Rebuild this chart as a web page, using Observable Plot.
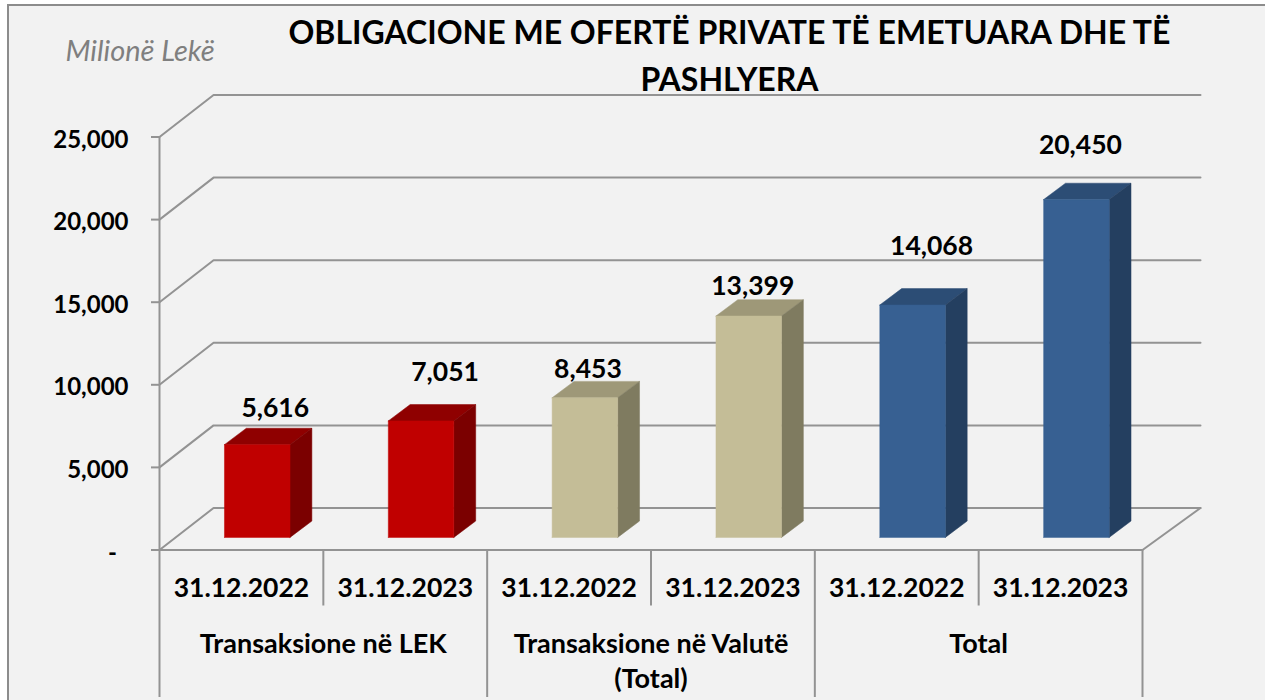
<!DOCTYPE html>
<html>
<head>
<meta charset="utf-8">
<script src="https://cdn.jsdelivr.net/npm/d3@7"></script>
<script src="https://cdn.jsdelivr.net/npm/@observablehq/plot@0.6"></script>
<style>
  html, body { margin: 0; padding: 0; background: #fff; overflow: hidden; }
  #frame { position: absolute; left: 7px; top: 4px; right: 0; bottom: 0; background: #f2f2f2;
           border-left: 2px solid #8c8c8c; border-top: 2px solid #8c8c8c; }
  #chart { position: absolute; left: 0; top: 0; width: 1265px; height: 700px; }
  #chart svg { display: block; }
</style>
</head>
<body>
<div id="frame"></div>
<div id="chart"></div>
<script>
const dates = ["31.12.2022", "31.12.2023", "31.12.2022", "31.12.2023", "31.12.2022", "31.12.2023"];
const groups = ["Transaksione në LEK", "Transaksione në Valutë\n(Total)", "Total"];
const values = [5616, 7051, 8453, 13399, 14068, 20450];
const yTicks = [0, 5000, 10000, 15000, 20000, 25000];
const title = "OBLIGACIONE ME OFERTË PRIVATE TË EMETUARA DHE TË\nPASHLYERA";
const unitLabel = "Milionë Lekë";

// colours per group: front, top, side
const palette = [
  ["#c00000", "#8f0000", "#7b0000"],
  ["#c4bd97", "#9e9878", "#7f7b60"],
  ["#376092", "#2c4d75", "#243f60"]
];
const labelNudge = [[18, -36], [24, -48], [3, -28], [4, -30], [19, -58], [4, -54]];

// oblique projection of the 3D chart box, in scale units
const depthX = 0.342, depthY = 2542;
const P = (c, v, z) => ({x: c + z * depthX, y: v + z * depthY});
const z0 = 0.3, z1 = 0.69, gap = 0.294, barW = 0.4;
const n = dates.length, yMax = 25000;
const lineColor = "#939393";
const font = "Lato, Carlito, sans-serif";
const backLeft = 0.33, backRight = n + 0.354;

const wall = yTicks.map(v => [P(0, v, 0), {x: backLeft, y: v + depthY}, {x: backRight, y: v + depthY}]);
const floorEdge = [P(0, 0, 0), P(n, 0, 0), {x: backRight, y: depthY}];

const faceMarks = values.flatMap((v, i) => {
  const [front, top, side] = palette[Math.floor(i / 2)];
  const a = i + gap, b = a + barW;
  const poly = (pts, fill) => Plot.line([...pts, pts[0]], {x: "x", y: "y", fill, stroke: fill, strokeWidth: 0.5, curve: "linear"});
  return [
    poly([P(a, v, z0), P(b, v, z0), P(b, v, z1), P(a, v, z1)], top),
    poly([P(b, 0, z0), P(b, 0, z1), P(b, v, z1), P(b, v, z0)], side),
    poly([P(a, 0, z0), P(b, 0, z0), P(b, v, z0), P(a, v, z0)], front)
  ];
});

const labelMarks = values.map((v, i) => {
  const p = P(i + gap + barW / 2, v, z0);
  return Plot.text([d3.format(",")(v)], {
    x: () => p.x, y: () => p.y, text: d => d,
    dx: labelNudge[i][0], dy: labelNudge[i][1],
    fontSize: 26.5, fontWeight: 700, fill: "#000", fontFamily: font
  });
});

const lowShort = -3390, lowLong = -8930;

const plot = Plot.plot({
  width: 1265, height: 700,
  marginLeft: 159, marginRight: 123, marginTop: 136.5, marginBottom: 150.5,
  style: {background: "transparent", fontFamily: font, overflow: "visible"},
  x: {domain: [0, n], axis: null},
  y: {domain: [0, yMax], axis: null},
  marks: [
    ...wall.map(pts => Plot.line(pts, {x: "x", y: "y", stroke: lineColor, strokeWidth: 2, curve: "linear"})),
    Plot.line(floorEdge, {x: "x", y: "y", stroke: lineColor, strokeWidth: 2, curve: "linear"}),
    ...faceMarks,
    Plot.axisY({ticks: yTicks, tickSize: 8, fill: "none", stroke: lineColor, strokeWidth: 2, label: null, tickFormat: () => ""}),
    Plot.axisY({ticks: yTicks, tickSize: 0, tickPadding: 31, stroke: "none", fill: "#000", dy: 3,
      fontSize: 24, fontWeight: 700, fontFamily: font, label: null,
      tickFormat: d => d === 0 ? "-\u00a0\u00a0" : d3.format(",")(d)}),
    Plot.ruleX([0], {y1: lowLong, y2: yMax, stroke: lineColor, strokeWidth: 2}),
    Plot.ruleX([2, 4, 6], {y1: lowLong, y2: 0, stroke: lineColor, strokeWidth: 2}),
    Plot.ruleX([1, 3, 5], {y1: lowShort, y2: 0, stroke: lineColor, strokeWidth: 2}),
    Plot.text(dates, {x: (d, i) => i + 0.5, y: () => 0, text: d => d, dy: 39,
      fontSize: 26.5, fontWeight: 700, fill: "#000", fontFamily: font}),
    Plot.text(groups, {x: (d, i) => i * 2 + 1, y: () => 0, text: d => d, dy: 77, lineAnchor: "top", lineHeight: 1.33,
      fontSize: 27, fontWeight: 700, fill: "#000", fontFamily: font}),
    ...labelMarks,
    Plot.text([title], {frameAnchor: "top-left", dx: 570, dy: -126.5, text: d => d, textAnchor: "middle",
      lineAnchor: "top", lineHeight: 1.47, fontSize: 32, fontWeight: 700, fill: "#000", fontFamily: font}),
    Plot.text([unitLabel], {frameAnchor: "top-left", dx: -94, dy: -96.5, text: d => d, textAnchor: "start",
      lineAnchor: "top", fontSize: 29, fontStyle: "italic", fill: "#7f7f7f", fontFamily: font})
  ]
});
document.getElementById("chart").appendChild(plot);
</script>
</body>
</html>
